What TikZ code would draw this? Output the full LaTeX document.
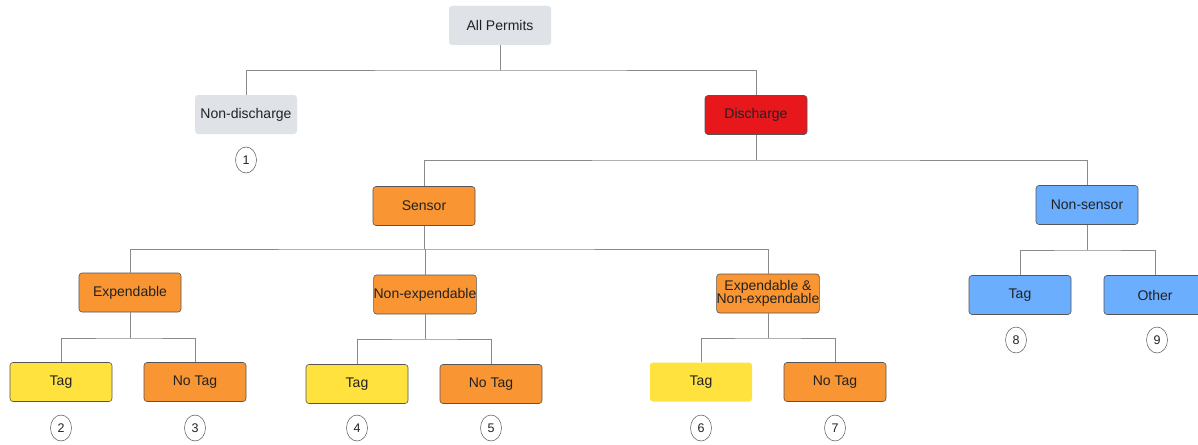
\documentclass[tikz,border=0pt]{standalone}
\usepackage{fontspec}
\setmainfont{Liberation Sans}
\usetikzlibrary{shapes.geometric}
\definecolor{cgray}{HTML}{DFE2E7}
\definecolor{cred}{HTML}{E8171B}
\definecolor{corange}{HTML}{F99532}
\definecolor{cyellow}{HTML}{FFE23E}
\definecolor{cblue}{HTML}{6AAEFD}
\definecolor{cline}{HTML}{8A8A8A}
\definecolor{cborder}{HTML}{555555}
\definecolor{ctext}{HTML}{222222}
\begin{document}
\begin{tikzpicture}[x=1pt,y=-1pt,
  box/.style={rectangle,rounded corners=3pt,minimum width=102pt,minimum height=39pt,inner sep=0pt,
    font=\fontsize{14}{15}\selectfont,text=ctext,align=center},
  grayb/.style={box,fill=cgray},
  redb/.style={box,fill=cred,draw=cborder,line width=0.6pt},
  orangeb/.style={box,fill=corange,draw=cborder,line width=0.6pt},
  yellowb/.style={box,fill=cyellow,draw=cborder,line width=0.6pt},
  yellownb/.style={box,fill=cyellow},
  blueb/.style={box,fill=cblue,draw=cborder,line width=0.6pt},
  num/.style={ellipse,draw=cborder,line width=0.5pt,minimum width=21pt,minimum height=26pt,inner sep=0pt,
    font=\fontsize{12.5}{13}\selectfont,text=ctext},
  conn/.style={draw=cline,line width=1pt}
]
\useasboundingbox (0,0) rectangle (1198,444);
\fill[white] (0,0) rectangle (1198,444);

\node[grayb] (all) at (500,25.5) {All Permits};
\node[grayb] (nd) at (246,114.5) {Non-discharge};
\node[redb] (dis) at (756,115) {Discharge};
\node[num] (n1) at (246,160) {1};

\node[orangeb] (sen) at (424,206) {Sensor};
\node[blueb] (nsen) at (1087,205) {Non-sensor};

\node[orangeb] (exp) at (130,292.5) {Expendable};
\node[orangeb] (nexp) at (425,294.5) {Non-expendable};
\node[orangeb] (both) at (768,293.5) {Expendable \&\\[-2pt]Non-expendable};

\node[blueb] (tag8) at (1020,295) {Tag};
\node[blueb] (oth) at (1155,295) {Other};
\node[num] (n8) at (1016,340) {8};
\node[num] (n9) at (1157,340) {9};

\node[yellowb] (tag2) at (61,382) {Tag};
\node[orangeb] (nt3) at (195,382) {No Tag};
\node[yellowb] (tag4) at (357,384) {Tag};
\node[orangeb] (nt5) at (491,384) {No Tag};
\node[yellownb] (tag6) at (701,382) {Tag};
\node[orangeb] (nt7) at (835,382) {No Tag};

\node[num] (n2) at (61,428) {2};
\node[num] (n3) at (195,428) {3};
\node[num] (n4) at (357,428) {4};
\node[num] (n5) at (491,428) {5};
\node[num] (n6) at (701,428) {6};
\node[num] (n7) at (835,428) {7};

% connectors
\coordinate (b0) at (0,70);
\coordinate (b1) at (0,160);
\coordinate (b2) at (0,249);
\coordinate (b3) at (0,250);
\coordinate (b4) at (0,338);
\coordinate (b5) at (0,339);

\draw[conn] (all.south) -- (all.south |- b0);
\draw[conn] (nd.north) |- (all.south |- b0) -| (dis.north);

\draw[conn] (dis.south) -- (dis.south |- b1);
\draw[conn] (sen.north) |- (dis.south |- b1) -| (nsen.north);

\draw[conn] (sen.south) -- (sen.south |- b2);
\draw[conn] (exp.north) |- (sen.south |- b2) -| (both.north);
\draw[conn] (nexp.north) -- (nexp.north |- b2);

\draw[conn] (nsen.south) -- (nsen.south |- b3);
\draw[conn] (tag8.north) |- (nsen.south |- b3) -| (oth.north);

\draw[conn] (exp.south) -- (exp.south |- b4);
\draw[conn] (tag2.north) |- (exp.south |- b4) -| (nt3.north);

\draw[conn] (nexp.south) -- (nexp.south |- b5);
\draw[conn] (tag4.north) |- (nexp.south |- b5) -| (nt5.north);

\draw[conn] (both.south) -- (both.south |- b4);
\draw[conn] (tag6.north) |- (both.south |- b4) -| (nt7.north);
\end{tikzpicture}
\end{document}
